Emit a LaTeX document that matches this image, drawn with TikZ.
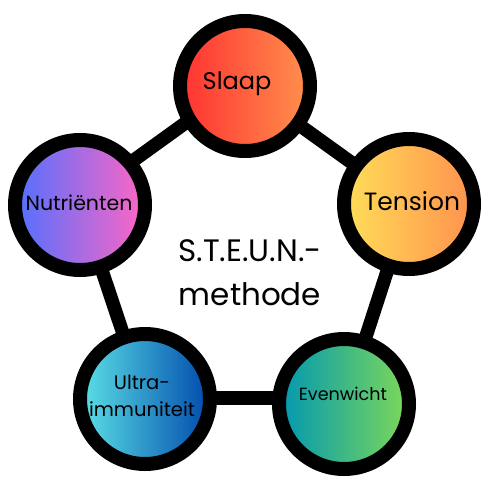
\documentclass[tikz,border=0pt]{standalone}
\usepackage{fontspec}
\setmainfont{Poppins}
\definecolor{cRedA}{HTML}{FF3131}
\definecolor{cRedB}{HTML}{FF914D}
\definecolor{cYelA}{HTML}{FFDE59}
\definecolor{cYelB}{HTML}{FF914D}
\definecolor{cPurA}{HTML}{5170FF}
\definecolor{cPurB}{HTML}{FF66C4}
\definecolor{cCyaA}{HTML}{5CE1E6}
\definecolor{cCyaB}{HTML}{004AAD}
\definecolor{cGrnA}{HTML}{0097B2}
\definecolor{cGrnB}{HTML}{7ED957}
\begin{document}
\begin{tikzpicture}[x=1pt,y=-1pt,
  ball/.style={circle, draw=black, line width=14pt, minimum size=130pt, inner sep=0pt},
  link/.style={draw=black, line width=13.5pt},
  lbl/.style={text=black, inner sep=0pt, align=center}]
\useasboundingbox (0,0) rectangle (500,500);
\fill[white] (0,0) rectangle (500,500);
% circle positions
\coordinate (pS) at (245,86);
\coordinate (pT) at (409,204);
\coordinate (pN) at (80,205);
\coordinate (pU) at (145,399);
\coordinate (pE) at (344,404);
% connectors (behind)
\draw[link] ([yshift=6pt]pS) -- ([yshift=6pt]pN);
\draw[link] (pS) -- (pT);
\draw[link] (pT) -- (pE);
\draw[link] (pN) -- (pU);
\draw[link] ([yshift=1pt]pU) -- ([yshift=6pt]pE);
% circles
\node[ball, left color=cRedA, right color=cRedB] (sl) at (pS) {};
\node[ball, left color=cYelA, right color=cYelB] (te) at (pT) {};
\node[ball, left color=cPurA, right color=cPurB] (nu) at (pN) {};
\node[ball, left color=cCyaA, right color=cCyaB] (ul) at (pU) {};
\node[ball, left color=cGrnA, right color=cGrnB] (ev) at (pE) {};
% labels
\node[lbl, font=\fontsize{24}{28}\selectfont] (tsl) at (237,84) {Slaap};
\node[lbl, font=\fontsize{25}{29}\selectfont] (tte) at (412,201) {Tension};
\node[lbl, font=\fontsize{20.5}{25}\selectfont] (tnu) at (79,203) {Nutriënten};
\node[lbl, font=\fontsize{19.5}{27.7}\selectfont] (tul) at (142,396) {Ultra-\\immuniteit};
\node[lbl, font=\fontsize{17.6}{21}\selectfont] (tev) at (343,394) {Evenwicht};
\node[lbl, font=\fontsize{31}{44.3}\selectfont] (mid) at (250,273) {S.T.E.U.N.-\\methode};
\end{tikzpicture}
\end{document}
